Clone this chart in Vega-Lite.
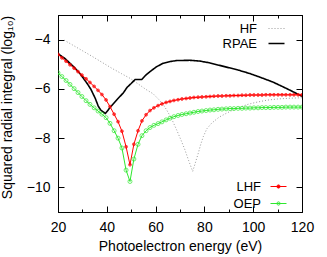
{
 "$schema": "https://vega.github.io/schema/vega-lite/v6.json",
 "width": 244, "height": 197,
 "autosize": {"type": "none"},
 "padding": {"left": 58, "top": 15, "right": 25, "bottom": 45},
 "background": "white",
 "config": {
  "font": "Liberation Sans",
  "view": {"stroke": "black", "strokeWidth": 1},
  "axis": {"grid": false, "domainColor": "black", "domainWidth": 1, "tickColor": "black", "tickWidth": 1, "labelColor": "black", "titleColor": "black", "labelFontSize": 14, "titleFontSize": 14, "titleFontWeight": "normal", "labelFont": "Liberation Sans", "titleFont": "Liberation Sans", "labelFlush": false},
  "legend": {"labelFont": "Liberation Sans", "labelFontSize": 13, "labelFontWeight": "normal", "labelColor": "black"}
 },
 "datasets": {
  "lines": [
   {"s":"HF","E":22.5,"v":-4.02},{"s":"HF","E":26,"v":-4.22},{"s":"HF","E":30,"v":-4.45},{"s":"HF","E":34,"v":-4.68},{"s":"HF","E":38,"v":-4.92},{"s":"HF","E":42,"v":-5.16},{"s":"HF","E":46,"v":-5.38},{"s":"HF","E":49.5,"v":-5.57},{"s":"HF","E":52,"v":-5.74},{"s":"HF","E":54,"v":-5.88},{"s":"HF","E":56,"v":-6.02},{"s":"HF","E":59,"v":-6.2},{"s":"HF","E":61.5,"v":-6.45},{"s":"HF","E":63,"v":-6.62},{"s":"HF","E":64.5,"v":-6.85},{"s":"HF","E":66.5,"v":-7.2},{"s":"HF","E":68.6,"v":-7.66},{"s":"HF","E":70.5,"v":-8.1},{"s":"HF","E":72,"v":-8.47},{"s":"HF","E":73.5,"v":-8.9},{"s":"HF","E":75.2,"v":-9.35},{"s":"HF","E":76.3,"v":-9.0},{"s":"HF","E":77.5,"v":-8.61},{"s":"HF","E":78.5,"v":-8.25},{"s":"HF","E":79.6,"v":-7.93},{"s":"HF","E":81,"v":-7.62},{"s":"HF","E":83,"v":-7.39},{"s":"HF","E":86,"v":-7.15},{"s":"HF","E":89.2,"v":-6.98},{"s":"HF","E":93,"v":-6.8},{"s":"HF","E":97.4,"v":-6.64},{"s":"HF","E":101,"v":-6.55},{"s":"HF","E":105.6,"v":-6.46},{"s":"HF","E":110,"v":-6.41},{"s":"HF","E":115,"v":-6.38},{"s":"HF","E":120,"v":-6.36},
   {"s":"RPAE","E":20,"v":-4.57},{"s":"RPAE","E":23,"v":-4.78},{"s":"RPAE","E":26.3,"v":-5.09},{"s":"RPAE","E":29,"v":-5.38},{"s":"RPAE","E":31.8,"v":-5.76},{"s":"RPAE","E":33.5,"v":-6.02},{"s":"RPAE","E":35.2,"v":-6.37},{"s":"RPAE","E":36.5,"v":-6.7},{"s":"RPAE","E":37.5,"v":-6.86},{"s":"RPAE","E":39.4,"v":-7.0},{"s":"RPAE","E":42,"v":-6.68},{"s":"RPAE","E":44.5,"v":-6.4},{"s":"RPAE","E":46.8,"v":-6.16},{"s":"RPAE","E":48.3,"v":-5.94},{"s":"RPAE","E":50,"v":-5.78},{"s":"RPAE","E":51.6,"v":-5.62},{"s":"RPAE","E":54.3,"v":-5.62},{"s":"RPAE","E":56,"v":-5.44},{"s":"RPAE","E":57.7,"v":-5.3},{"s":"RPAE","E":60.4,"v":-5.1},{"s":"RPAE","E":63.1,"v":-4.96},{"s":"RPAE","E":66,"v":-4.89},{"s":"RPAE","E":68.6,"v":-4.85},{"s":"RPAE","E":74,"v":-4.84},{"s":"RPAE","E":78,"v":-4.87},{"s":"RPAE","E":82,"v":-4.94},{"s":"RPAE","E":86,"v":-5.04},{"s":"RPAE","E":90,"v":-5.14},{"s":"RPAE","E":94,"v":-5.24},{"s":"RPAE","E":98.7,"v":-5.38},{"s":"RPAE","E":104,"v":-5.57},{"s":"RPAE","E":108,"v":-5.72},{"s":"RPAE","E":112.3,"v":-5.92},{"s":"RPAE","E":116,"v":-6.1},{"s":"RPAE","E":120,"v":-6.3}
  ],
  "pts": [
   {"s":"LHF","E":20,"v":-4.6},{"s":"LHF","E":21.6,"v":-4.74},{"s":"LHF","E":23.3,"v":-4.88},{"s":"LHF","E":24.9,"v":-5.02},{"s":"LHF","E":26.6,"v":-5.16},{"s":"LHF","E":28.2,"v":-5.3},{"s":"LHF","E":29.8,"v":-5.44},{"s":"LHF","E":31.5,"v":-5.59},{"s":"LHF","E":33.1,"v":-5.74},{"s":"LHF","E":34.8,"v":-5.9},{"s":"LHF","E":36.4,"v":-6.06},{"s":"LHF","E":38.0,"v":-6.23},{"s":"LHF","E":39.7,"v":-6.45},{"s":"LHF","E":41.3,"v":-6.72},{"s":"LHF","E":43.0,"v":-7.03},{"s":"LHF","E":44.6,"v":-7.33},{"s":"LHF","E":46.2,"v":-7.72},{"s":"LHF","E":47.9,"v":-8.35},{"s":"LHF","E":49.5,"v":-9.08},{"s":"LHF","E":51.1,"v":-8.25},{"s":"LHF","E":52.8,"v":-7.7},{"s":"LHF","E":54.4,"v":-7.3},{"s":"LHF","E":56.1,"v":-7.05},{"s":"LHF","E":57.7,"v":-6.88},{"s":"LHF","E":59.3,"v":-6.77},{"s":"LHF","E":61.0,"v":-6.68},{"s":"LHF","E":62.6,"v":-6.61},{"s":"LHF","E":64.3,"v":-6.55},{"s":"LHF","E":65.9,"v":-6.51},{"s":"LHF","E":67.5,"v":-6.47},{"s":"LHF","E":69.2,"v":-6.44},{"s":"LHF","E":70.8,"v":-6.41},{"s":"LHF","E":72.5,"v":-6.39},{"s":"LHF","E":74.1,"v":-6.37},{"s":"LHF","E":75.7,"v":-6.35},{"s":"LHF","E":77.4,"v":-6.34},{"s":"LHF","E":79.0,"v":-6.33},{"s":"LHF","E":80.7,"v":-6.32},{"s":"LHF","E":82.3,"v":-6.31},{"s":"LHF","E":83.9,"v":-6.3},{"s":"LHF","E":85.6,"v":-6.29},{"s":"LHF","E":87.2,"v":-6.29},{"s":"LHF","E":88.9,"v":-6.28},{"s":"LHF","E":90.5,"v":-6.28},{"s":"LHF","E":92.1,"v":-6.27},{"s":"LHF","E":93.8,"v":-6.27},{"s":"LHF","E":95.4,"v":-6.26},{"s":"LHF","E":97.0,"v":-6.26},{"s":"LHF","E":98.7,"v":-6.25},{"s":"LHF","E":100.3,"v":-6.25},{"s":"LHF","E":102.0,"v":-6.25},{"s":"LHF","E":103.6,"v":-6.25},{"s":"LHF","E":105.2,"v":-6.24},{"s":"LHF","E":106.9,"v":-6.24},{"s":"LHF","E":108.5,"v":-6.24},{"s":"LHF","E":110.2,"v":-6.24},{"s":"LHF","E":111.8,"v":-6.24},{"s":"LHF","E":113.4,"v":-6.24},{"s":"LHF","E":115.1,"v":-6.24},{"s":"LHF","E":116.7,"v":-6.24},{"s":"LHF","E":118.4,"v":-6.24},{"s":"LHF","E":120,"v":-6.24},
   {"s":"OEP","E":20,"v":-5.35},{"s":"OEP","E":21.6,"v":-5.5},{"s":"OEP","E":23.3,"v":-5.66},{"s":"OEP","E":24.9,"v":-5.82},{"s":"OEP","E":26.6,"v":-5.99},{"s":"OEP","E":28.2,"v":-6.15},{"s":"OEP","E":29.8,"v":-6.31},{"s":"OEP","E":31.5,"v":-6.48},{"s":"OEP","E":33.1,"v":-6.63},{"s":"OEP","E":34.8,"v":-6.77},{"s":"OEP","E":36.4,"v":-6.9},{"s":"OEP","E":38.0,"v":-7.03},{"s":"OEP","E":39.7,"v":-7.17},{"s":"OEP","E":41.3,"v":-7.4},{"s":"OEP","E":43.0,"v":-7.7},{"s":"OEP","E":44.6,"v":-8.0},{"s":"OEP","E":46.2,"v":-8.4},{"s":"OEP","E":47.9,"v":-9.3},{"s":"OEP","E":49.5,"v":-9.76},{"s":"OEP","E":51.1,"v":-8.85},{"s":"OEP","E":52.8,"v":-8.25},{"s":"OEP","E":54.4,"v":-7.9},{"s":"OEP","E":56.1,"v":-7.7},{"s":"OEP","E":57.7,"v":-7.57},{"s":"OEP","E":59.3,"v":-7.48},{"s":"OEP","E":61.0,"v":-7.41},{"s":"OEP","E":62.6,"v":-7.34},{"s":"OEP","E":64.3,"v":-7.26},{"s":"OEP","E":65.9,"v":-7.19},{"s":"OEP","E":67.5,"v":-7.13},{"s":"OEP","E":69.2,"v":-7.08},{"s":"OEP","E":70.8,"v":-7.04},{"s":"OEP","E":72.5,"v":-7.01},{"s":"OEP","E":74.1,"v":-6.98},{"s":"OEP","E":75.7,"v":-6.95},{"s":"OEP","E":77.4,"v":-6.92},{"s":"OEP","E":79.0,"v":-6.9},{"s":"OEP","E":80.7,"v":-6.88},{"s":"OEP","E":82.3,"v":-6.86},{"s":"OEP","E":83.9,"v":-6.85},{"s":"OEP","E":85.6,"v":-6.83},{"s":"OEP","E":87.2,"v":-6.82},{"s":"OEP","E":88.9,"v":-6.81},{"s":"OEP","E":90.5,"v":-6.8},{"s":"OEP","E":92.1,"v":-6.8},{"s":"OEP","E":93.8,"v":-6.79},{"s":"OEP","E":95.4,"v":-6.79},{"s":"OEP","E":97.0,"v":-6.78},{"s":"OEP","E":98.7,"v":-6.78},{"s":"OEP","E":100.3,"v":-6.77},{"s":"OEP","E":102.0,"v":-6.77},{"s":"OEP","E":103.6,"v":-6.76},{"s":"OEP","E":105.2,"v":-6.76},{"s":"OEP","E":106.9,"v":-6.76},{"s":"OEP","E":108.5,"v":-6.75},{"s":"OEP","E":110.2,"v":-6.75},{"s":"OEP","E":111.8,"v":-6.75},{"s":"OEP","E":113.4,"v":-6.74},{"s":"OEP","E":115.1,"v":-6.74},{"s":"OEP","E":116.7,"v":-6.74},{"s":"OEP","E":118.4,"v":-6.74},{"s":"OEP","E":120,"v":-6.74}
  ]
 },
 "layer": [
  {
   "data": {"name": "lines"},
   "mark": {"type": "line", "clip": true},
   "encoding": {
    "x": {"field": "E", "type": "quantitative", "scale": {"domain": [20, 120], "nice": false, "zero": false},
     "axis": {"orient": "bottom", "values": [20,30,40,50,60,70,80,90,100,110,120], "labelExpr": "datum.value % 20 === 0 ? datum.label : ''", "tickSize": {"condition": {"test": "datum.value % 20 === 0", "value": -6}, "value": -3}, "labelPadding": 14, "title": "Photoelectron energy (eV)", "titlePadding": 5}},
    "y": {"field": "v", "type": "quantitative", "scale": {"domain": [-11, -3], "nice": false, "zero": false},
     "axis": {"orient": "left", "values": [-10,-8,-6,-4], "tickSize": -6, "labelPadding": 14, "title": "Squared radial integral (log₁₀)", "titlePadding": 12, "titleY": 92}},
    "color": {"field": "s", "type": "nominal", "scale": {"domain": ["HF", "RPAE"], "range": ["#9a9a9a", "#000000"]},
     "legend": {"orient": "none", "legendX": 212, "legendY": 7, "title": null, "symbolType": "stroke", "symbolSize": 256, "symbolStrokeWidth": 1.5, "labelAlign": "right", "labelOffset": -26, "rowPadding": 1, "padding": 0,
      "encode": {"symbols": {"update": {"strokeDash": {"signal": "datum.value === 'HF' ? [1, 2] : [1, 0]"}, "strokeWidth": {"signal": "datum.value === 'HF' ? 1 : 1.6"}}}}}},
    "strokeDash": {"field": "s", "type": "nominal", "scale": {"domain": ["HF", "RPAE"], "range": [[1, 2], [1, 0]]}, "legend": null},
    "strokeWidth": {"field": "s", "type": "nominal", "scale": {"domain": ["HF", "RPAE"], "range": [1, 1.6]}, "legend": null}
   }
  },
  {
   "data": {"name": "pts"},
   "encoding": {
    "x": {"field": "E", "type": "quantitative", "axis": {"orient": "top", "values": [20,30,40,50,60,70,80,90,100,110,120], "labels": false, "title": null, "tickSize": {"condition": {"test": "datum.value % 20 === 0", "value": -6}, "value": -3}}},
    "y": {"field": "v", "type": "quantitative", "axis": {"orient": "right", "values": [-10,-8,-6,-4], "labels": false, "title": null, "tickSize": -6}},
    "color": {"field": "s", "type": "nominal", "scale": {"domain": ["LHF", "OEP"], "range": ["#ff0000", "#2ee82e"]},
     "legend": {"orient": "none", "legendX": 212, "legendY": 163, "title": null, "symbolType": "M-1,0H1M-0.2,0A0.2,0.2,0,1,0,0.2,0A0.2,0.2,0,1,0,-0.2,0", "symbolSize": 256, "symbolStrokeWidth": 1, "labelAlign": "right", "labelOffset": -26, "rowPadding": 1, "padding": 0,
      "encode": {"symbols": {"update": {"fill": {"signal": "datum.value === 'LHF' ? '#ff0000' : 'transparent'"}}}}}}
   },
   "layer": [
    {"mark": {"type": "line", "strokeWidth": 1, "clip": true}},
    {"mark": {"type": "point", "filled": false, "strokeWidth": 1, "clip": true},
     "encoding": {
      "fill": {"condition": {"test": "datum.s === 'LHF'", "value": "#ff0000"}, "value": "transparent"},
      "size": {"condition": {"test": "datum.s === 'LHF'", "value": 8}, "value": 16}
     }}
   ]
  }
 ],
 "resolve": {"scale": {"color": "independent"}}
}
